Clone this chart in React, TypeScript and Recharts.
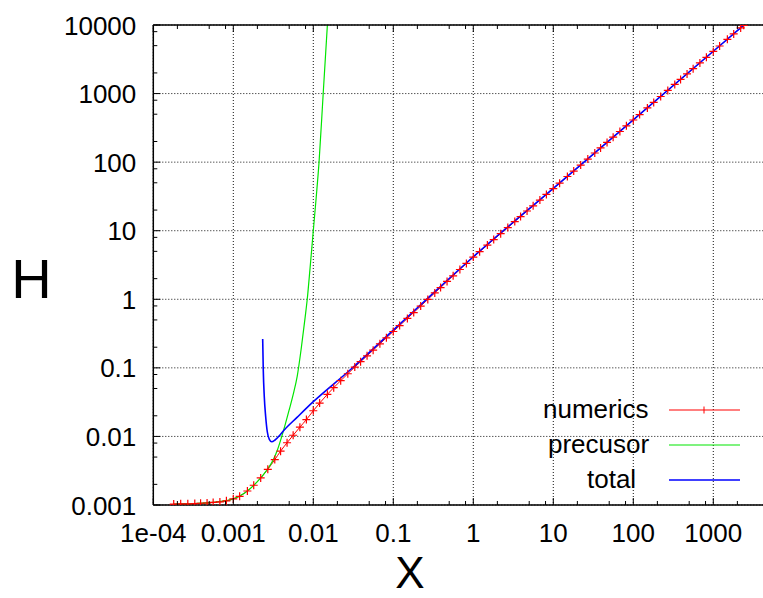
import { LineChart, Line, XAxis, YAxis, CartesianGrid, Legend } from "recharts"

const FONT = '"Liberation Sans", Arial, Helvetica, sans-serif'
const RED = "#ff0000"
const GREEN = "#00e600"
const BLUE = "#0000ff"

// axes
const X_TICKS = [1e-4, 1e-3, 1e-2, 1e-1, 1, 10, 100, 1000]
const X_TICK_LABELS = ["1e-04", "0.001", "0.01", "0.1", "1", "10", "100", "1000"]
const X_MINOR = [
  2e-4, 5e-4, 8e-4, 2e-3, 5e-3, 8e-3, 0.02, 0.05, 0.08, 0.2, 0.5, 0.8,
  2, 5, 8, 20, 50, 80, 200, 500, 800, 2000,
]
const Y_TICKS = [0.001, 0.01, 0.1, 1, 10, 100, 1000, 10000]
const Y_TICK_LABELS = ["0.001", "0.01", "0.1", "1", "10", "100", "1000", "10000"]
const Y_MINOR = [
  0.002, 0.005, 0.008, 0.02, 0.05, 0.08, 0.2, 0.5, 0.8, 2, 5, 8,
  20, 50, 80, 200, 500, 800, 2000, 5000, 8000,
]
const X_DOMAIN = [1e-4, 5000]
const Y_DOMAIN = [0.001, 10000]

// numerics (red, + markers)
const numericsX = [
  1.8e-4, 2.2e-4, 2.7e-4, 3.3e-4, 3.9e-4, 4.7e-4, 5.6e-4, 6.8e-4, 8.2e-4,
  1e-3, 1.2e-3, 1.5e-3, 1.8e-3, 2.2e-3, 2.7e-3, 3.3e-3, 3.9e-3, 4.7e-3, 5.6e-3, 6.8e-3, 8.2e-3,
  0.01, 0.012, 0.015, 0.018, 0.022, 0.027, 0.033, 0.039, 0.047, 0.056, 0.068, 0.082,
  0.1, 0.12, 0.15, 0.18, 0.22, 0.27, 0.33, 0.39, 0.47, 0.56, 0.68, 0.82,
  1, 1.2, 1.5, 1.8, 2.2, 2.7, 3.3, 3.9, 4.7, 5.6, 6.8, 8.2,
  10, 12, 15, 18, 22, 27, 33, 39, 47, 56, 68, 82,
  100, 120, 150, 180, 220, 270, 330, 390, 470, 560, 680, 820,
  1000, 1200, 1500, 1800, 2200, 2400,
]
const numericsH = [
  0.00103, 0.00104, 0.00104, 0.00105, 0.00106, 0.00107, 0.00109, 0.00111, 0.00115,
  0.00123, 0.00134, 0.0016, 0.00194, 0.00248, 0.00331, 0.00459, 0.0061, 0.00809, 0.0104, 0.01365, 0.0176,
  0.0237, 0.0306, 0.0411, 0.0514, 0.065, 0.082, 0.1026, 0.123, 0.15, 0.181, 0.224, 0.274,
  0.339, 0.413, 0.526, 0.641, 0.796, 0.995, 1.24, 1.48, 1.82, 2.2, 2.72, 3.33,
  4.12, 4.94, 6.18, 7.42, 9.06, 11.1, 13.6, 16.1, 19.4, 23.1, 28, 33.8,
  41.2, 49.4, 61.8, 74.2, 90.6, 111, 136, 161, 194, 231, 280, 338,
  412, 494, 618, 742, 906, 1112, 1360, 1607, 1936, 2307, 2802, 3378,
  4120, 4944, 6180, 7416, 9064, 9890,
]

// precursor (green)
const precursorX = [
  1.8e-4, 3.2e-4, 6.3e-4, 1e-3, 1.4e-3, 2e-3, 2.5e-3, 3.16e-3, 3.55e-3, 3.98e-3,
  4.47e-3, 5e-3, 5.6e-3, 6.3e-3, 7.1e-3, 7.9e-3, 8.4e-3, 9.1e-3, 0.01, 0.0109,
  0.0118, 0.0133, 0.015,
]
const precursorH = [
  0.00103, 0.00105, 0.00111, 0.00123, 0.00151, 0.00219, 0.003, 0.00457, 0.0063, 0.0095,
  0.0151, 0.0245, 0.0407, 0.0759, 0.2, 0.54, 1.0, 2.8, 10, 31.6,
  100, 1000, 10000,
]

// total (blue)
const totalX = [
  0.00233, 0.00237, 0.00244, 0.00254, 0.00266, 0.00282, 0.00302, 0.00332, 0.00384, 0.00422,
  0.00631, 0.01, 0.0288, 0.1, 0.316, 1, 10, 100, 1000, 2400,
]
const totalH = [
  0.264, 0.0931, 0.0379, 0.0194, 0.0117, 0.00908, 0.00838, 0.00887, 0.0105, 0.012,
  0.0191, 0.0321, 0.0931, 0.355, 1.23, 4.17, 41.5, 414, 4140, 9950,
]

const zip = (xs: number[], hs: number[]) => xs.map((x, i) => ({ x, h: hs[i] }))
const numericsData = zip(numericsX, numericsH)
const precursorData = zip(precursorX, precursorH)
const totalData = zip(totalX, totalH)

const ALL_X_TICKS = [...X_TICKS, ...X_MINOR].sort((a, b) => a - b)
const ALL_Y_TICKS = [...Y_TICKS, ...Y_MINOR].sort((a, b) => a - b)

const MAJOR = 7
const MINOR = 4

function BottomTick({ x, y, payload }: any) {
  const i = X_TICKS.indexOf(payload.value)
  const major = i >= 0
  return (
    <g>
      <line x1={x} x2={x} y1={y} y2={y - (major ? MAJOR : MINOR)} stroke="#000" />
      {major && (
        <text x={x} y={y + 37} textAnchor="middle" fontSize={26} fontFamily={FONT} fill="#000">
          {X_TICK_LABELS[i]}
        </text>
      )}
    </g>
  )
}

function TopTick({ x, y, payload }: any) {
  const major = X_TICKS.includes(payload.value)
  return <line x1={x} x2={x} y1={y} y2={y + (major ? MAJOR : MINOR)} stroke="#000" />
}

function LeftTick({ x, y, payload }: any) {
  const i = Y_TICKS.indexOf(payload.value)
  const major = i >= 0
  return (
    <g>
      <line x1={x} x2={x + (major ? MAJOR : MINOR)} y1={y} y2={y} stroke="#000" />
      {major && (
        <text x={x - 17} y={y + 9.5} textAnchor="end" fontSize={26} fontFamily={FONT} fill="#000">
          {Y_TICK_LABELS[i]}
        </text>
      )}
    </g>
  )
}

function renderPlus(p: any) {
  const { cx, cy, index } = p
  if (cx == null || cy == null) return <g key={index} />
  return (
    <path
      key={index}
      d={`M${cx - 4},${cy}H${cx + 4}M${cx},${cy - 4}V${cy + 4}`}
      stroke={RED}
      strokeWidth={1.2}
      fill="none"
    />
  )
}

const LEGEND_TEXT_X: Record<string, number> = { numerics: 63, precusor: 68, total: 107 }

function renderLegend(props: any) {
  const items = props.payload ?? []
  return (
    <svg width={280} height={110} style={{ display: "block" }}>
      {items.map((it: any, i: number) => {
        const cy = 20 + i * 35
        return (
          <g key={it.value}>
            <text x={LEGEND_TEXT_X[it.value] ?? 60} y={cy + 8} fontSize={26} fontFamily={FONT} fill="#000">
              {it.value}
            </text>
            <line x1={189} x2={260} y1={cy} y2={cy} stroke={it.color} strokeWidth={it.value === "total" ? 1.5 : 1.2} />
            {it.value === "numerics" && (
              <path d={`M224,${cy - 3.5}V${cy + 3.5}`} stroke={it.color} strokeWidth={1} />
            )}
          </g>
        )
      })}
    </svg>
  )
}

export default function App() {
  return (
    <div
      style={{
        position: "fixed",
        left: 0,
        top: 0,
        width: 763,
        height: 598,
        overflow: "hidden",
        background: "#fff",
      }}
    >
      <LineChart
        width={770}
        height={598}
        margin={{ top: 24, right: 0.8, bottom: 92, left: 152.3 }}
      >
        {/* hidden axes that only feed the dotted grid */}
        <XAxis xAxisId="grid" dataKey="x" type="number" scale="log" domain={X_DOMAIN} allowDataOverflow ticks={X_TICKS} interval={0} hide />
        <YAxis yAxisId="grid" type="number" scale="log" domain={Y_DOMAIN} allowDataOverflow ticks={Y_TICKS} interval={0} hide />
        <CartesianGrid xAxisId="grid" yAxisId="grid" stroke="#111" strokeDasharray="1 2" />

        <XAxis
          dataKey="x"
          type="number"
          scale="log"
          domain={X_DOMAIN}
          allowDataOverflow
          ticks={ALL_X_TICKS}
          interval={0}
          height={1}
          tickSize={0}
          tickMargin={0}
          tickLine={false}
          axisLine={{ stroke: "#000", strokeWidth: 1.5 }}
          tick={(p: any) => <BottomTick {...p} />}
          label={(p: any) => {
            const vb = p.viewBox ?? { x: 153.3, y: 505 }
            return (
              <text x={vb.x + 256.7} y={vb.y + 83} textAnchor="middle" fontSize={44} fontFamily={FONT} fill="#000">
                X
              </text>
            )
          }}
        />
        <XAxis
          xAxisId="top"
          orientation="top"
          dataKey="x"
          type="number"
          scale="log"
          domain={X_DOMAIN}
          allowDataOverflow
          ticks={ALL_X_TICKS}
          interval={0}
          height={1}
          tickSize={0}
          tickMargin={0}
          tickLine={false}
          axisLine={{ stroke: "#000", strokeWidth: 1.5 }}
          tick={(p: any) => <TopTick {...p} />}
        />
        <YAxis
          type="number"
          scale="log"
          domain={Y_DOMAIN}
          allowDataOverflow
          ticks={ALL_Y_TICKS}
          interval={0}
          width={1}
          tickSize={0}
          tickMargin={0}
          tickLine={false}
          axisLine={{ stroke: "#000", strokeWidth: 1.5 }}
          tick={(p: any) => <LeftTick {...p} />}
          label={(p: any) => {
            const vb = p.viewBox ?? { x: 152.3, y: 25 }
            return (
              <text x={31.5} y={(vb.y ?? 25) + 273} textAnchor="middle" fontSize={56} fontFamily={FONT} fill="#000">
                H
              </text>
            )
          }}
        />
        <Line
          name="numerics"
          data={numericsData}
          dataKey="h"
          type="monotone"
          stroke={RED}
          strokeWidth={1}
          dot={renderPlus}
          isAnimationActive={false}
        />
        <Line
          name="precusor"
          data={precursorData}
          dataKey="h"
          type="monotone"
          stroke={GREEN}
          strokeWidth={1.2}
          dot={false}
          isAnimationActive={false}
        />
        <Line
          name="total"
          data={totalData}
          dataKey="h"
          type="monotone"
          stroke={BLUE}
          strokeWidth={1.6}
          dot={false}
          isAnimationActive={false}
        />
        <Legend
          layout="horizontal"
          verticalAlign="middle"
          align="center"
          wrapperStyle={{ left: 480, top: 390, width: 280, height: 110 }}
          content={renderLegend}
        />
      </LineChart>
    </div>
  )
}
